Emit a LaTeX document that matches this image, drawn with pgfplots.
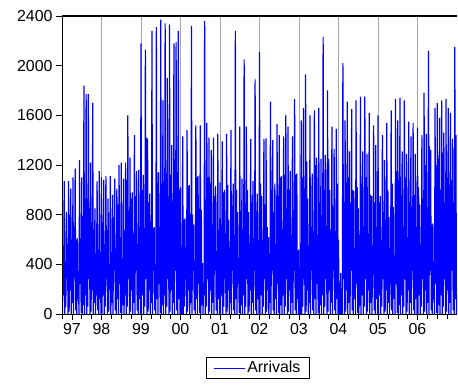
\documentclass[border=0pt]{standalone}
\usepackage{fontspec}
\setmainfont{Liberation Sans}
\usepackage{pgfplots}
\pgfplotsset{compat=1.18}
\begin{document}
\begin{tikzpicture}[x=1bp,y=1bp]
\path (0,0) rectangle (458,390);
\begin{axis}[
  at={(62bp,76bp)}, anchor=south west,
  scale only axis, width=395bp, height=298bp,
  xmin=1997, xmax=2007, ymin=0, ymax=2400,
  axis line style={draw=none},
  ytick={0,400,...,2400},
  xtick={1998,...,2006},
  xticklabels={98,99,00,01,02,03,04,05,06},
  extra x ticks={1997.25}, extra x tick labels={97},
  extra x tick style={grid=none},
  minor xtick={1997,1997.25,...,2007},
  xmajorgrids, major grid style={gray!70, line width=0.8bp},
  tick align=outside, major tick length=6bp, minor tick length=5bp,
  xtick pos=bottom, ytick pos=left,
  tick style={black, line width=0.7bp},
  ticklabel style={font=\fontsize{16}{19}\selectfont},
  /pgf/number format/assume math mode=true,
  /pgf/number format/1000 sep={},
  legend style={at={(0.496,-0.181)}, anchor=center, draw=black, line width=0.7bp,
    font=\fontsize{16}{19}\selectfont, inner xsep=7bp, inner ysep=2bp},
  legend image code/.code={\draw[#1, line width=0.8bp] (0bp,0bp) -- (31bp,0bp);},
]
\addplot[blue, line width=1.2bp] table[x expr=1997+\coordindex/72, y index=0, header=false, row sep=\\] {
770\\0\\550\\150\\1070\\0\\170\\60\\820\\280\\560\\0\\1070\\20\\800\\190\\1010\\0\\600\\90\\1100\\0\\420\\350\\1170\\30\\600\\0\\610\\120\\280\\0\\1240\\240\\480\\10\\1100\\0\\790\\70\\1840\\0\\220\\150\\1770\\0\\600\\60\\1770\\280\\850\\0\\1220\\20\\740\\190\\1700\\0\\680\\90\\850\\0\\190\\350\\1070\\30\\360\\0\\1150\\120\\500\\0\\
1100\\0\\740\\150\\1080\\0\\520\\60\\1110\\280\\680\\0\\930\\20\\390\\190\\1110\\0\\500\\90\\960\\0\\780\\350\\1090\\30\\270\\0\\1010\\120\\880\\0\\1200\\240\\620\\10\\1220\\0\\450\\70\\1090\\0\\240\\150\\1220\\0\\1080\\60\\1600\\280\\650\\0\\1260\\20\\930\\190\\980\\0\\370\\90\\1440\\0\\950\\350\\1150\\30\\480\\0\\1160\\120\\700\\0\\
2180\\0\\1000\\150\\1120\\0\\560\\60\\2130\\280\\1420\\0\\1410\\20\\900\\190\\970\\0\\580\\90\\2280\\0\\690\\350\\700\\30\\300\\0\\2310\\120\\1060\\0\\1140\\240\\700\\10\\2370\\0\\1050\\70\\1720\\0\\290\\150\\2340\\0\\1100\\60\\1900\\280\\820\\0\\2330\\20\\1120\\190\\1360\\0\\470\\90\\2180\\0\\1010\\350\\2190\\30\\1140\\0\\2280\\120\\1000\\0\\
1020\\0\\100\\0\\1430\\0\\760\\60\\770\\280\\420\\0\\1480\\20\\1030\\190\\1040\\0\\560\\90\\2320\\0\\800\\350\\720\\30\\380\\0\\1520\\120\\1100\\0\\1110\\240\\850\\10\\1520\\0\\840\\70\\410\\0\\200\\150\\2360\\0\\230\\60\\1540\\280\\1100\\0\\1420\\20\\1050\\190\\1320\\0\\720\\90\\1420\\0\\950\\350\\1030\\30\\430\\0\\1450\\120\\680\\0\\
1060\\0\\720\\150\\1390\\0\\980\\60\\1000\\280\\500\\0\\1450\\20\\1040\\190\\760\\0\\300\\90\\1480\\0\\870\\350\\1050\\30\\640\\0\\2280\\120\\1000\\0\\820\\240\\430\\10\\1510\\0\\830\\70\\1090\\0\\590\\150\\2050\\0\\860\\60\\1510\\280\\1000\\0\\820\\20\\350\\190\\1410\\0\\900\\90\\1070\\0\\560\\350\\1890\\30\\830\\0\\970\\120\\600\\0\\
2110\\0\\1050\\150\\950\\0\\450\\60\\1410\\280\\880\\0\\1415\\20\\700\\190\\620\\0\\300\\90\\1710\\0\\1000\\350\\1400\\30\\820\\0\\1050\\120\\420\\0\\1530\\240\\950\\10\\1440\\0\\1100\\70\\1110\\0\\480\\150\\1430\\0\\1120\\60\\1600\\280\\700\\0\\1510\\20\\1000\\190\\1150\\0\\580\\90\\1430\\0\\780\\350\\1730\\30\\1120\\0\\1130\\120\\510\\0\\
520\\0\\200\\0\\1560\\0\\1100\\60\\1660\\280\\700\\0\\1930\\20\\1230\\190\\930\\0\\450\\90\\1600\\0\\700\\350\\1130\\30\\480\\0\\1640\\120\\1200\\0\\1260\\240\\580\\10\\1660\\0\\900\\70\\1250\\0\\620\\150\\2230\\0\\1000\\60\\1280\\280\\700\\0\\1800\\20\\1250\\190\\1000\\0\\460\\90\\1510\\0\\860\\350\\1330\\30\\620\\0\\1490\\120\\1050\\0\\
600\\0\\250\\0\\330\\0\\60\\0\\2020\\280\\900\\0\\1560\\20\\1060\\190\\1710\\0\\1100\\90\\1310\\0\\640\\350\\1650\\30\\1000\\0\\990\\120\\520\\0\\1720\\240\\1020\\10\\850\\0\\300\\70\\1750\\0\\1050\\150\\1310\\0\\700\\60\\1750\\280\\1100\\0\\1290\\20\\600\\190\\1620\\0\\960\\90\\950\\0\\400\\350\\1520\\30\\900\\0\\1360\\120\\700\\0\\
1600\\0\\900\\150\\950\\0\\330\\60\\1440\\280\\820\\0\\1240\\20\\760\\190\\1540\\0\\1000\\90\\780\\0\\220\\350\\1640\\30\\1050\\0\\860\\120\\440\\0\\1730\\240\\1150\\10\\1560\\0\\1080\\70\\1740\\0\\960\\150\\1310\\0\\640\\60\\1720\\280\\1100\\0\\1290\\20\\620\\190\\1550\\0\\900\\90\\1430\\0\\860\\350\\1540\\30\\960\\0\\1290\\120\\700\\0\\
1500\\0\\1020\\150\\880\\0\\400\\60\\1440\\280\\930\\0\\1780\\20\\1200\\190\\1450\\0\\860\\90\\2120\\0\\1350\\350\\1320\\30\\720\\0\\730\\120\\300\\0\\1660\\240\\1200\\10\\1700\\0\\1250\\70\\1580\\0\\1000\\150\\1720\\0\\1300\\60\\1460\\280\\900\\0\\1730\\20\\1100\\190\\1660\\0\\1040\\90\\1620\\0\\1080\\350\\1410\\30\\900\\0\\2150\\120\\1440\\0\\
};
\addlegendentry{Arrivals}
\draw[black, line width=0.8bp] (rel axis cs:0,0) -- (rel axis cs:1,0);
\draw[black, line width=1.6bp] (rel axis cs:0,0) -- (rel axis cs:0,1) -- (rel axis cs:1,1);
\end{axis}
\end{tikzpicture}
\end{document}
